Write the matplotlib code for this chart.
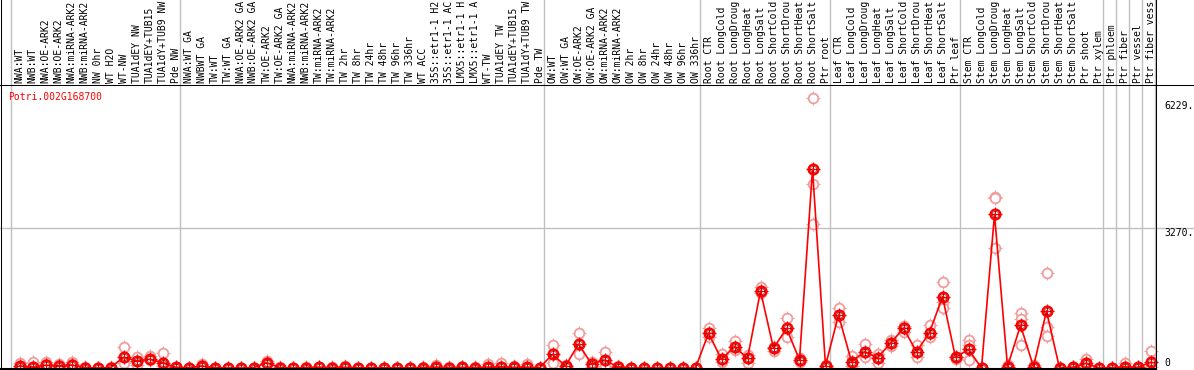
import numpy as np
import matplotlib
matplotlib.use("Agg")
import matplotlib.pyplot as plt
from matplotlib.lines import Line2D

# canvas size in pixels
W, H = 1194, 370

gene = "Potri.002G168700"

# sample labels as they show in the header (long ones cut at the top edge)
labels = [
    # NW group
    "NWA:WT", "NWB:WT", "NWA:OE-ARK2", "NWB:OE-ARK2", "NWA:miRNA-ARK2", "NWB:miRNA-ARK2",
    "NW 0hr", "WT H2O", "WT-NW", "TUA1dEY NW", "TUA1dEY+TUB15", "TUA1dY+TUB9 NW", "Pde NW",
    # TW group
    "NWA:WT GA", "NWBWT GA", "TW:WT", "TW:WT GA", "NWA:OE-ARK2 GA", "NWB:OE-ARK2 GA",
    "TW:OE-ARK2", "TW:OE-ARK2 GA", "NWA:miRNA-ARK2", "NWB:miRNA-ARK2", "TW:miRNA-ARK2",
    "TW:miRNA-ARK2", "TW 2hr", "TW 8hr", "TW 24hr", "TW 48hr", "TW 96hr", "TW 336hr",
    "WT ACC", "35S::etr1-1 H2", "35S::etr1-1 AC", "LMX5::etr1-1 H", "LMX5::etr1-1 A",
    "WT-TW", "TUA1dEY TW", "TUA1dEY+TUB15", "TUA1dY+TUB9 TW", "Pde TW",
    # OW group
    "OW:WT", "OW:WT GA", "OW:OE-ARK2", "OW:OE-ARK2 GA", "OW:miRNA-ARK2", "OW:miRNA-ARK2",
    "OW 2hr", "OW 8hr", "OW 24hr", "OW 48hr", "OW 96hr", "OW 336hr",
    # root
    "Root CTR", "Root LongCold", "Root LongDroug", "Root LongHeat", "Root LongSalt",
    "Root ShortCold", "Root ShortDrou", "Root ShortHeat", "Root ShortSalt", "Ptr root",
    # leaf
    "Leaf CTR", "Leaf LongCold", "Leaf LongDroug", "Leaf LongHeat", "Leaf LongSalt",
    "Leaf ShortCold", "Leaf ShortDrou", "Leaf ShortHeat", "Leaf ShortSalt", "Ptr leaf",
    # stem
    "Stem CTR", "Stem LongCold", "Stem LongDroug", "Stem LongHeat", "Stem LongSalt",
    "Stem ShortCold", "Stem ShortDrou", "Stem ShortHeat", "Stem ShortSalt", "Ptr shoot",
    "Ptr xylem",
    "Ptr phloem", "Ptr fiber", "Ptr vessel", "Ptr fiber vess",
]

# mean expression per sample
mean_vals = [
    47, 23, 63, 55, 70, 10, 0, 10, 250, 171, 203, 125, 16,
    5, 47, 8, 0, 0, 5, 125, 10, 0, 8, 20, 8, 15, 3, 3, 3, 3, 3,
    10, 20, 10, 12, 10, 20, 30, 12, 20, 3,
    319, 47, 561, 94, 187, 30, 0, 0, 0, 0, 0, 0,
    811, 203, 498, 226, 1799, 460, 927, 187, 4642, 54,
    1238, 148, 381, 241, 577, 927, 381, 826, 1667, 249,
    436, 0, 3589, 31, 997, 31, 1331, 0, 15, 109, 5,
    5, 31, 15, 132,
]

# replicate values
rep1 = [
    117, 133, 140, 90, 140, 20, 0, 15, 484, 250, 270, 359, 20,
    5, 100, 10, 0, 0, 10, 160, 15, 0, 12, 30, 12, 50, 5, 5, 5, 5, 5,
    15, 70, 15, 20, 15, 94, 109, 50, 100, 5,
    530, 70, 810, 148, 381, 40, 0, 0, 0, 0, 0, 0,
    928, 327, 631, 304, 1885, 405, 1161, 241, 6300, 30,
    1395, 280, 553, 327, 654, 981, 538, 1004, 2016, 203,
    654, 0, 4002, 60, 1277, 60, 2212, 0, 25, 203, 10,
    10, 125, 25, 397,
]
rep2 = [
    10, 15, 90, 40, 100, 5, 0, 5, 109, 70, 180, 40, 10,
    0, 30, 5, 0, 0, 0, 100, 5, 0, 5, 15, 5, 10, 0, 0, 0, 0, 0,
    5, 10, 5, 8, 5, 0, 20, 5, 10, 0,
    109, 30, 327, 31, 40, 10, 0, 0, 0, 0, 0, 0,
    733, 148, 420, 125, 1744, 480, 717, 150, 4291, 80,
    1082, 47, 265, 125, 514, 848, 265, 717, 1549, 260,
    537, 0, 3964, 10, 1137, 10, 965, 0, 5, 60, 0,
    0, 10, 5, 30,
]
rep3 = [np.nan] * len(mean_vals)
for idx, v in [(61, 3357), (71, 1394), (73, 187), (75, 2797), (77, 537), (79, 755)]:
    rep3[idx] = v

# group boundaries (sample index where a new group starts)
group_breaks = [0, 13, 41, 53, 63, 73, 84, 85, 86, 87, 88]

grid_val = 3270
y_ticks = [6229, 3270, 0]

red = "#ff0000"
pink = "#f29c9c"
gray = "#c0c0c0"
mono = "DejaVu Sans Mono"
fs = 7.0

fig = plt.figure(figsize=(W / 100, H / 100), dpi=100)

# pixel helpers for the frame
def fx(px):
    return px / W

def fy(py):
    return 1 - py / H

x = np.arange(len(mean_vals))
xl = (-19.5 / 13, (W - 19.5) / 13)

# plot area: from header line (y=85) to bottom line (y=369), zero at y=368
k = grid_val / (368 - 228)
ax = fig.add_axes([0, fy(369), 1, (369 - 85) / H])
ax.set_xlim(*xl)
ax.set_ylim(-(369 - 368) * k, (368 - 85) * k)
ax.axis("off")

hx = fig.add_axes([0, fy(85), 1, 85 / H])
hx.set_xlim(*xl)
hx.set_ylim(0, 1)
hx.axis("off")

for b in group_breaks:
    ax.axvline(b - 8.5 / 13, color=gray, lw=1, zorder=1)
    hx.axvline(b - 8.5 / 13, color=gray, lw=1, zorder=1)
ax.axhline(grid_val, color=gray, lw=1, zorder=1)

# replicates
for reps in (rep1, rep2, rep3):
    ax.plot(x, reps, ls="none", marker="+", ms=10, mew=0.8, color=pink, zorder=2)
    ax.plot(x, reps, ls="none", marker="o", ms=7, mfc="white", mec=pink, mew=1.3, zorder=2)

# mean line and points
ax.plot(x, mean_vals, color=red, lw=1.2, zorder=3)
ax.plot(x, mean_vals, ls="none", marker="+", ms=10, mew=0.9, color=red, zorder=4)
ax.plot(x, mean_vals, ls="none", marker="o", ms=7, mfc="none", mec=red, mew=1.7, zorder=5)
ax.plot(x, mean_vals, ls="none", marker="o", ms=4.6, mfc="none", mec="#600000", mew=0.4, zorder=5)

# sample labels
for i, lab in enumerate(labels):
    hx.text(i, 2 / 85, lab, rotation=90, ha="center", va="bottom",
            family=mono, fontsize=fs, color="black")

# y value labels on the right
ax.text(1164 / W, y_ticks[0], f"{y_ticks[0]}.", transform=ax.get_yaxis_transform(),
        ha="left", va="top", family=mono, fontsize=fs)
ax.text(1164 / W, y_ticks[1], f"{y_ticks[1]}.", transform=ax.get_yaxis_transform(),
        ha="left", va="top", family=mono, fontsize=fs)
ax.text(1164 / W, y_ticks[2], f"{y_ticks[2]}", transform=ax.get_yaxis_transform(),
        ha="left", va="bottom", family=mono, fontsize=fs)

fig.text(fx(8), fy(97), gene, ha="left", va="center", family=mono, fontsize=fs, color=red)

# black frame lines
lw_px = 0.75
fig.add_artist(Line2D([fx(1), fx(1)], [0, 1], color="black", lw=lw_px))
fig.add_artist(Line2D([fx(1156), fx(1156)], [0, 1], color="black", lw=lw_px))
fig.add_artist(Line2D([0, 1], [fy(85), fy(85)], color="black", lw=lw_px))
fig.add_artist(Line2D([0, fx(1156)], [fy(369), fy(369)], color="black", lw=1.5))

fig.savefig("out.png", dpi=100)
